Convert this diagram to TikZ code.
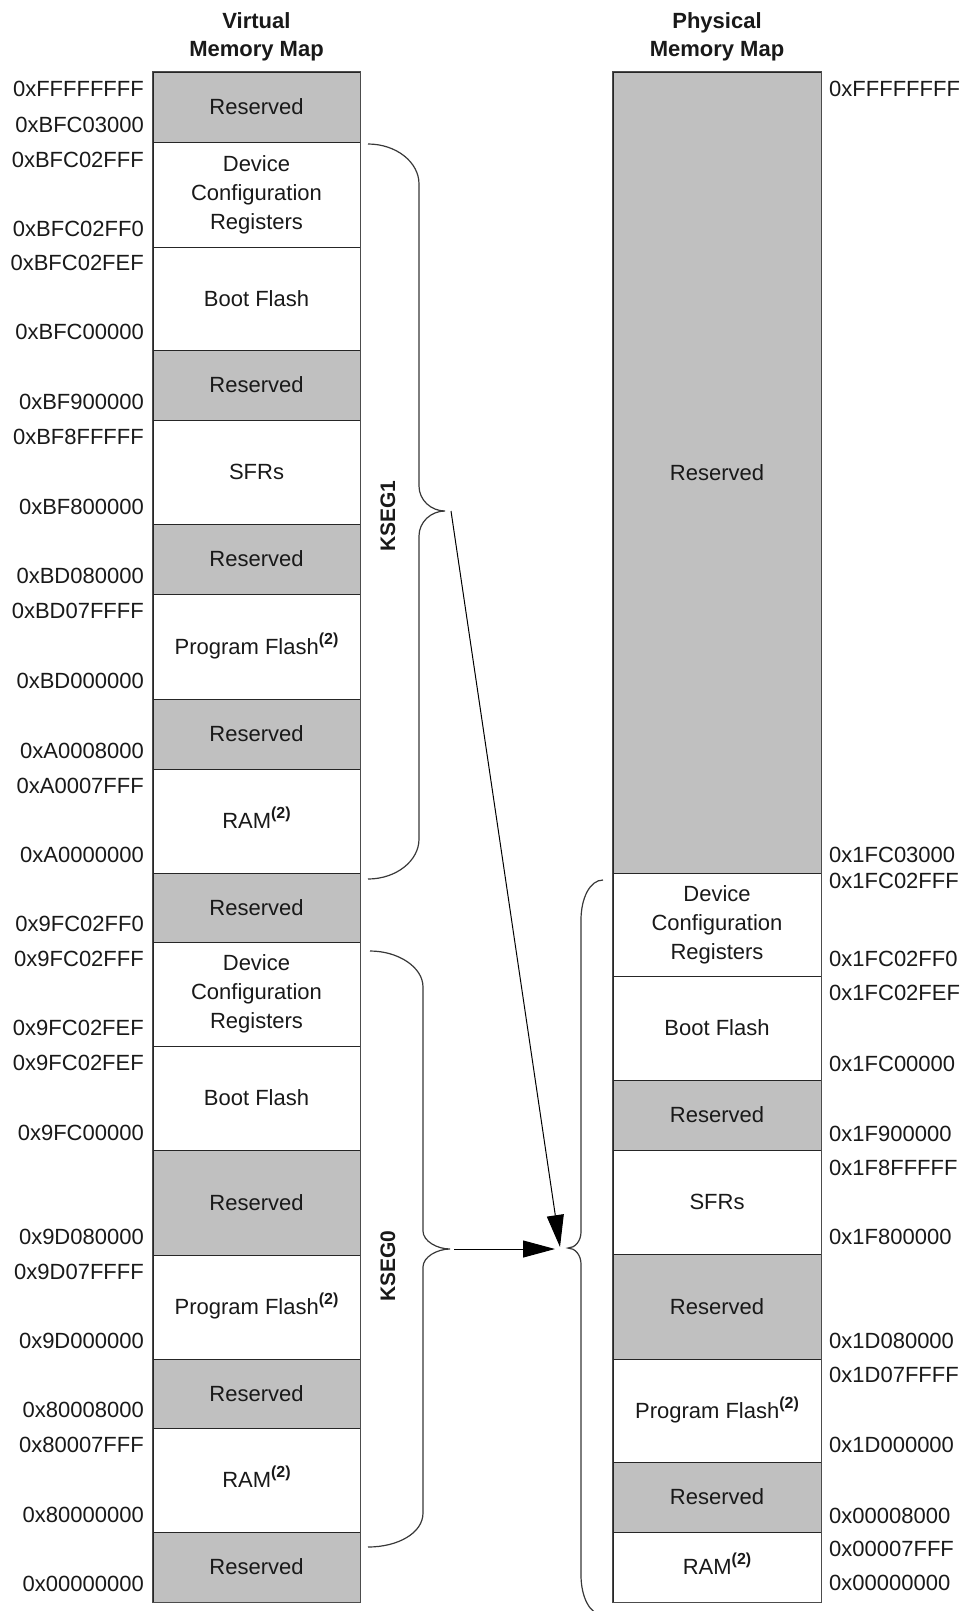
\documentclass[tikz,border=0pt]{standalone}
\usepackage{fontspec}
\setmainfont{Liberation Sans}
\usetikzlibrary{arrows.meta}
\definecolor{resgray}{RGB}{192,192,192}
\definecolor{txt}{RGB}{25,25,25}
\newcommand{\supnote}{\raisebox{10pt}{\fontsize{16}{16}\selectfont\bfseries(2)}}
\tikzset{
  mem/.style={draw=black!85, line width=0.9pt, inner sep=0pt, text=txt,
              font=\fontsize{22}{29}\selectfont},
  onel/.style={text height=15.75pt, text depth=0pt},
  vcol/.style={mem, minimum width=207pt},
  pcol/.style={mem, minimum width=208pt},
  resv/.style={fill=resgray},
  addr/.style={inner sep=0pt, text=txt, font=\fontsize{22}{26}\selectfont,
               text height=15.75pt, text depth=0pt},
  head/.style={inner sep=0pt, text=txt, font=\fontsize{22}{26}\selectfont\bfseries, anchor=base},
  brace/.style={draw=black!78, line width=1.2pt},
  arr/.style={draw=black, line width=1pt, -{Triangle[length=32pt,width=17pt]}},
  seglab/.style={inner sep=0pt, text=txt, font=\fontsize{21}{21}\selectfont\bfseries, rotate=90}
}
\begin{document}
\begin{tikzpicture}[x=1pt,y=-1pt]
\useasboundingbox (0,0) rectangle (964,1611);
% headers
\node[head] (vh1) at (256.5,28.5) {Virtual};
\node[head] (vh2) at (256.5,56.5) {Memory Map};
\node[head] (ph1) at (717,28.5) {Physical};
\node[head] (ph2) at (717,56.5) {Memory Map};
% virtual column
\node[vcol,resv,onel,minimum height=70pt]  (v1)  at (256.5,107)   {Reserved};
\node[vcol,align=center,minimum height=105pt] (v2) at (256.5,194.5) {Device\\Configuration\\Registers};
\node[vcol,onel,minimum height=103pt]      (v3)  at (256.5,298.5) {Boot Flash};
\node[vcol,resv,onel,minimum height=70pt]  (v4)  at (256.5,385)   {Reserved};
\node[vcol,onel,minimum height=104pt]      (v5)  at (256.5,472)   {SFRs};
\node[vcol,resv,onel,minimum height=70pt]  (v6)  at (256.5,559)   {Reserved};
\node[vcol,onel,minimum height=105pt]      (v7)  at (256.5,646.5) {Program Flash\supnote};
\node[vcol,resv,onel,minimum height=70pt]  (v8)  at (256.5,734)   {Reserved};
\node[vcol,onel,minimum height=104pt]      (v9)  at (256.5,821)   {RAM\supnote};
\node[vcol,resv,onel,minimum height=69pt]  (v10) at (256.5,907.5) {Reserved};
\node[vcol,align=center,minimum height=104pt] (v11) at (256.5,994) {Device\\Configuration\\Registers};
\node[vcol,onel,minimum height=104pt]      (v12) at (256.5,1098)  {Boot Flash};
\node[vcol,resv,onel,minimum height=105pt] (v13) at (256.5,1202.5){Reserved};
\node[vcol,onel,minimum height=104pt]      (v14) at (256.5,1307)  {Program Flash\supnote};
\node[vcol,resv,onel,minimum height=69pt]  (v15) at (256.5,1393.5){Reserved};
\node[vcol,onel,minimum height=104pt]      (v16) at (256.5,1480)  {RAM\supnote};
\node[vcol,resv,onel,minimum height=70pt]  (v17) at (256.5,1567)  {Reserved};
% physical column
\node[pcol,resv,onel,minimum height=801pt] (p1) at (717,472.5)  {Reserved};
\node[pcol,align=center,minimum height=103pt] (p2) at (717,924.5) {Device\\Configuration\\Registers};
\node[pcol,onel,minimum height=104pt]      (p3) at (717,1028)   {Boot Flash};
\node[pcol,resv,onel,minimum height=70pt]  (p4) at (717,1115)   {Reserved};
\node[pcol,onel,minimum height=104pt]      (p5) at (717,1202)   {SFRs};
\node[pcol,resv,onel,minimum height=105pt] (p6) at (717,1306.5) {Reserved};
\node[pcol,onel,minimum height=103pt]      (p7) at (717,1410.5) {Program Flash\supnote};
\node[pcol,resv,onel,minimum height=70pt]  (p8) at (717,1497)   {Reserved};
\node[pcol,onel,minimum height=70pt]       (p9) at (717,1567)   {RAM\supnote};
% outer borders
\draw[draw=black!70, line width=1.5pt] (v1.north west) rectangle (v17.south east);
\draw[draw=black!70, line width=1.5pt] (p1.north west) rectangle (p9.south east);
% left addresses
\foreach \a/\y [count=\i] in {0xFFFFFFFF/89, 0xBFC03000/125, 0xBFC02FFF/160, 0xBFC02FF0/229,
  0xBFC02FEF/263, 0xBFC00000/332, 0xBF900000/402, 0xBF8FFFFF/437, 0xBF800000/507,
  0xBD080000/576, 0xBD07FFFF/611, 0xBD000000/681, 0xA0008000/751, 0xA0007FFF/786,
  0xA0000000/855, 0x9FC02FF0/924, 0x9FC02FFF/959, 0x9FC02FEF/1028, 0x9FC02FEF/1063,
  0x9FC00000/1133, 0x9D080000/1237, 0x9D07FFFF/1272, 0x9D000000/1341, 0x80008000/1410,
  0x80007FFF/1445, 0x80000000/1515, 0x00000000/1584}
  \node[addr, anchor=east] (la\i) at (144,\y) {\a};
% right addresses
\foreach \a/\y [count=\i] in {0xFFFFFFFF/89, 0x1FC03000/855, 0x1FC02FFF/881, 0x1FC02FF0/959,
  0x1FC02FEF/993, 0x1FC00000/1064, 0x1F900000/1134, 0x1F8FFFFF/1168, 0x1F800000/1237,
  0x1D080000/1341, 0x1D07FFFF/1375, 0x1D000000/1445, 0x00008000/1516, 0x00007FFF/1549,
  0x00000000/1583}
  \node[addr, anchor=west] (ra\i) at (829,\y) {\a};
% braces
\coordinate (k1tip) at (445,511);
\coordinate (k0tip) at (450,1249);
\coordinate (ptip) at (568,1248);
\draw[brace] (368,144) .. controls (396,144) and (419,162) .. (419,184)
  -- (419,486) .. controls (419,500) and (431,511) .. (k1tip)
  .. controls (431,511) and (419,522) .. (419,536)
  -- (419,839) .. controls (419,861) and (396,879) .. (368,879);
\draw[brace] (370,951) .. controls (398,951) and (423,967) .. (423,987)
  -- (423,1231) .. controls (423,1241) and (437,1249) .. (k0tip)
  .. controls (437,1249) and (423,1257) .. (423,1267)
  -- (423,1513) .. controls (423,1533) and (398,1547) .. (368,1547);
\draw[brace] (603,880) .. controls (590,880) and (581,898) .. (581,920)
  -- (581,1232) .. controls (581,1241) and (575,1248) .. (ptip)
  .. controls (575,1248) and (581,1255) .. (581,1264)
  -- (581,1575) .. controls (581,1597) and (590,1615) .. (603,1615);
% segment labels
\node[seglab] (kseg1) at (388,516) {KSEG1};
\node[seglab] (kseg0) at (388,1266) {KSEG0};
% arrows
\coordinate (a1s) at (451,511);
\coordinate (a1e) at (560,1247);
\coordinate (a0s) at (454,1249);
\coordinate (a0e) at (555,1249);
\draw[arr] (a1s) -- (a1e);
\draw[arr] (a0s) -- (a0e);
\end{tikzpicture}
\end{document}
